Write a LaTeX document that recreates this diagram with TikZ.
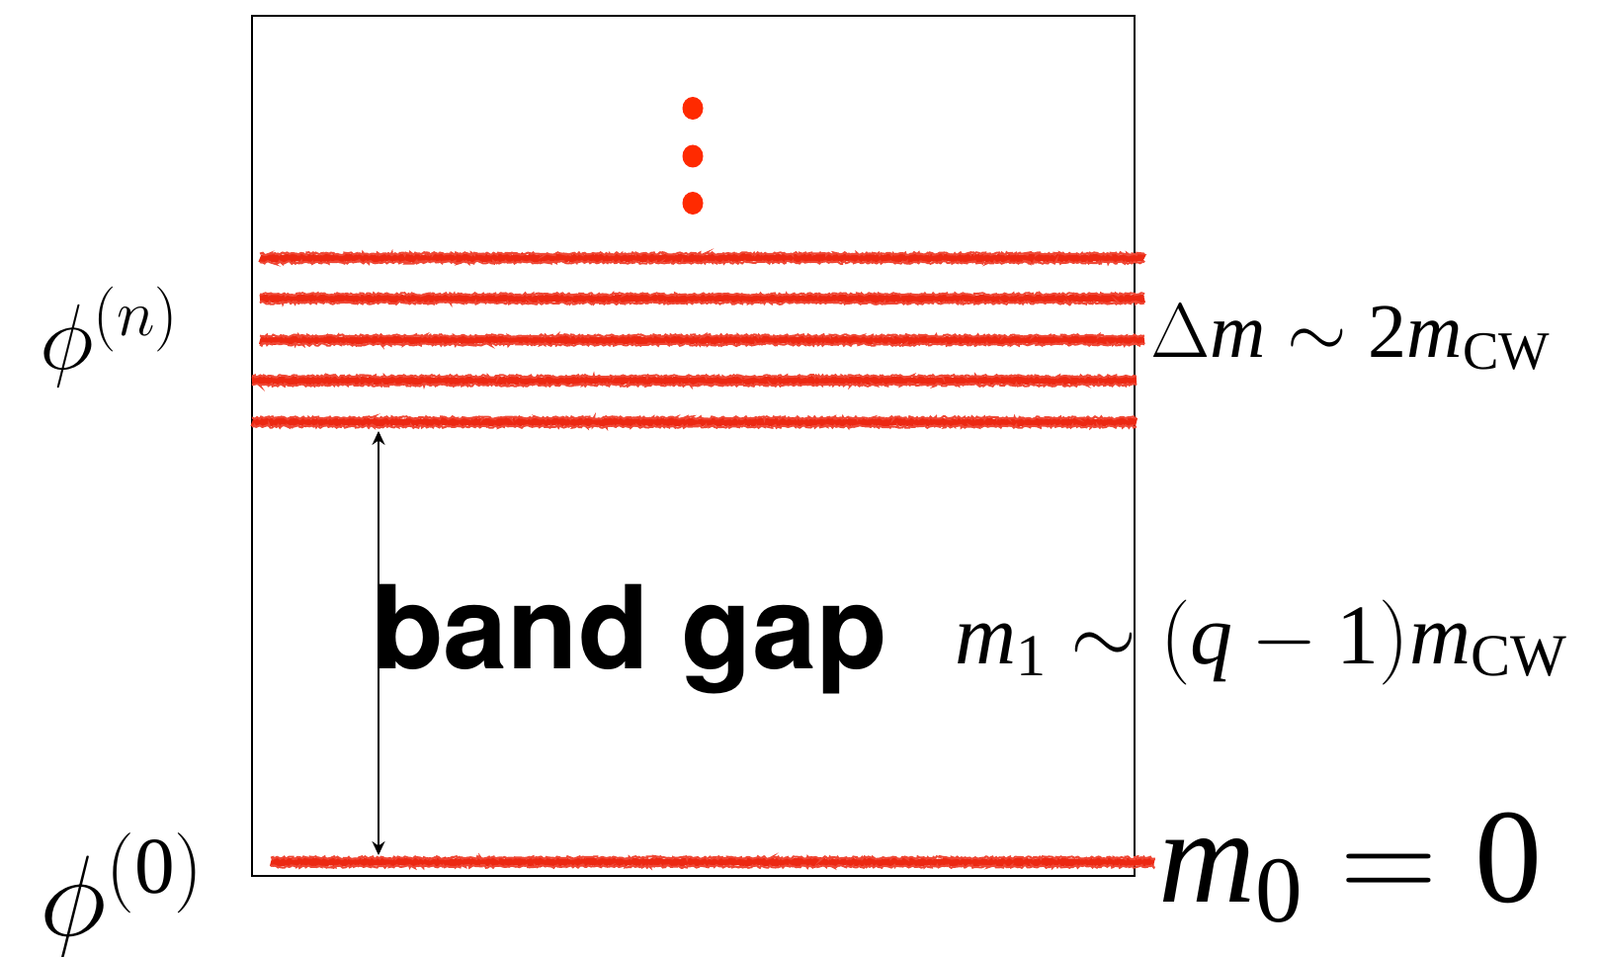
\RequirePackage{fix-cm}
\documentclass[tikz,border=0pt]{standalone}
\usepackage{fontspec}
\setmainfont{Liberation Serif}
\newfontfamily\herosfont{TeX Gyre Heros}
\usetikzlibrary{arrows.meta,decorations.pathmorphing}
\definecolor{bandred}{RGB}{236,40,18}
\definecolor{dotred}{RGB}{255,42,0}
\newcommand{\rmx}[1]{\mathrm{#1}}
\begin{document}
\begin{tikzpicture}[x=0.5pt,y=-0.5pt,
  band/.style={draw=bandred, line width=4pt, decorate,
    decoration={random steps, segment length=1.2pt, amplitude=0.45pt}},
  bandfringe/.style={draw=bandred!85, line width=1pt, decorate,
    decoration={random steps, segment length=0.9pt, amplitude=0.7pt}},
  frame/.style={draw=black, line width=1pt},
  gaparrow/.style={draw=black, line width=0.75pt, {Stealth[length=7pt,width=6.5pt]}-{Stealth[length=7pt,width=6.5pt]}},
  dotstyle/.style={fill=dotred, draw=none},
  lbl/.style={inner sep=0pt, anchor=base west}]
\useasboundingbox[fill=white] (0,0) rectangle (1619,968);
% frame
\draw[frame] (255,16.5) rectangle (1148,886);
% dots
\fill[dotstyle] (701,109.5) ellipse [x radius=10.5, y radius=11.5];
\fill[dotstyle] (701,158) ellipse [x radius=10.5, y radius=11.5];
\fill[dotstyle] (701,205.5) ellipse [x radius=10.5, y radius=11.5];
% bands
\coordinate (b1w) at (263,261);  \coordinate (b1e) at (1158,261);
\coordinate (b2w) at (263,302);  \coordinate (b2e) at (1158,302);
\coordinate (b3w) at (263,344);  \coordinate (b3e) at (1158,344);
\coordinate (b4w) at (255,385);  \coordinate (b4e) at (1150,385);
\coordinate (b5w) at (255,427);  \coordinate (b5e) at (1150,427);
\coordinate (b0w) at (274,872);  \coordinate (b0e) at (1168,872);
\foreach \b in {b1,b2,b3,b4,b5,b0}{
  \draw[band] (\b w) -- (\b e);
  \draw[bandfringe] ([yshift=2.2pt]\b w) -- ([yshift=2.2pt]\b e);
  \draw[bandfringe] ([yshift=-2.2pt]\b w) -- ([yshift=-2.2pt]\b e);
}
% band gap arrow
\coordinate (gtop) at (383,436);
\coordinate (gbot) at (383,865);
\draw[gaparrow] (gtop) -- (gbot);
% labels
\node[lbl] (gap) at (377,676) {\herosfont\bfseries\fontsize{58.5}{60}\selectfont band gap};
\node[lbl] (phin) at (40,374) {\fontsize{47}{52}\selectfont $\phi^{\rmx{(}n\rmx{)}}$};
\node[lbl] (phi0) at (40,946) {\fontsize{58}{62}\selectfont $\phi^{\rmx{(0)}}$};
\node[lbl] (dm) at (1164,362) {\fontsize{39}{44}\selectfont $\Delta \mathit{m}\sim \rmx{2}\mathit{m}_{\rmx{CW}}$};
\node[lbl] (m1) at (966,671) {\fontsize{43}{48}\selectfont $\mathit{m}_{\rmx{1}}\sim\rmx{(}\mathit{q}-\rmx{1)}\mathit{m}_{\rmx{CW}}$};
\node[lbl] (m0) at (1172,912) {\fontsize{68}{74}\selectfont $\mathit{m}_{\rmx{0}}\mathrel{\rmx{=}}\rmx{0}$};
\end{tikzpicture}
\end{document}
